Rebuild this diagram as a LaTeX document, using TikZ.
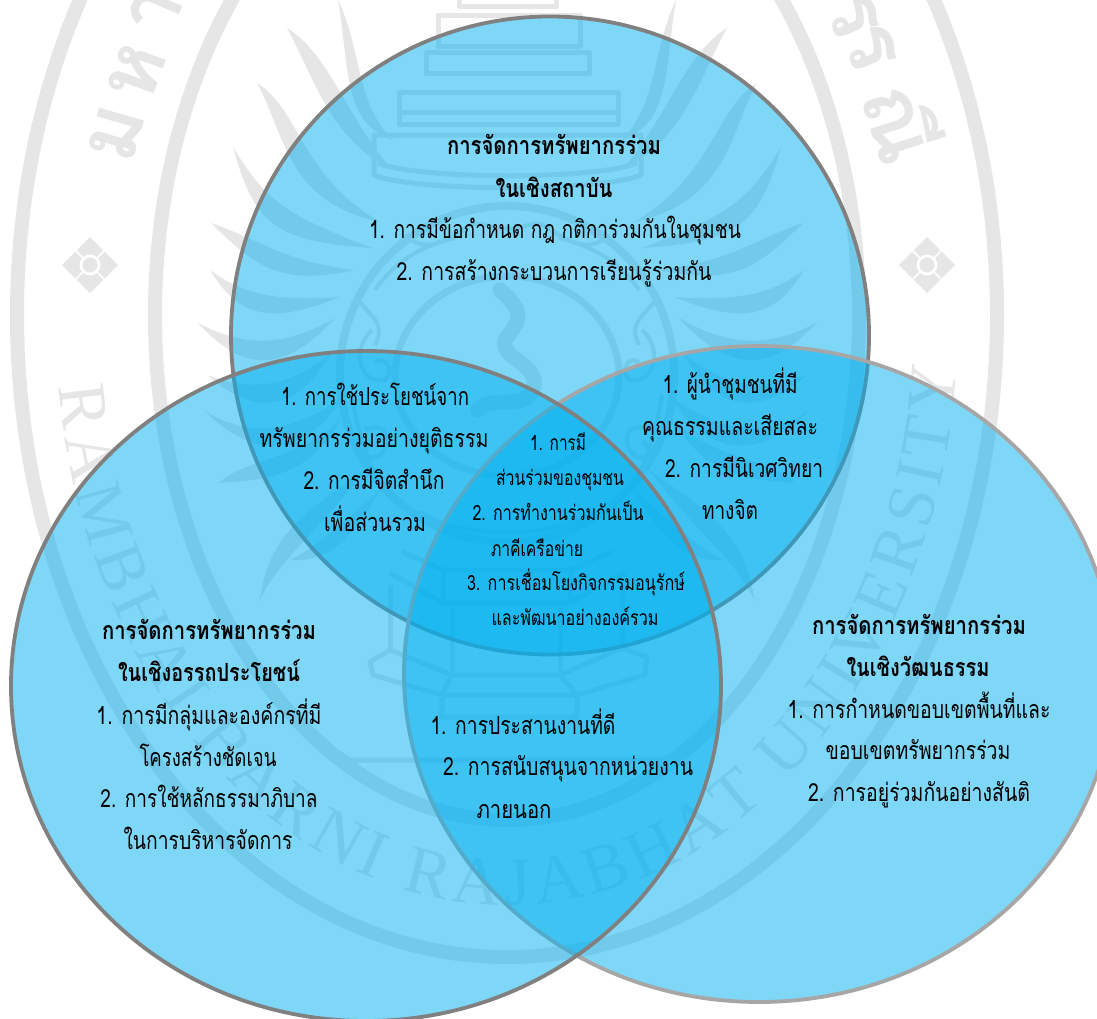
\documentclass[tikz,border=0pt]{standalone}
\usepackage{fontspec}
\usepackage{graphicx}
\usetikzlibrary{decorations.text}
\newfontfamily\thaifont[Script=Thai]{Loma}
\newfontfamily\wmfont{Liberation Serif}
\definecolor{wmgray}{HTML}{E6E6E6}
\definecolor{setblue}{HTML}{00B0F0}
\tikzset{
  setfill/.style={fill=setblue,fill opacity=0.5,line width=3.8pt},
  tl/.style={anchor=base,inner sep=0pt,outer sep=0pt,text=black},
  wmline/.style={draw=wmgray,line width=5pt,line join=round},
  wmring/.style={draw=wmgray,line width=14pt},
  wmletter/.style={text=wmgray,inner sep=0pt}
}
% one centred line of text: name, centre x, baseline y, width, text
\newcommand{\tline}[5]{\node[tl] (#1) at (#2,#3) {\thaifont\fontsize{25}{28}\selectfont\resizebox{#4pt}{\height}{#5}};}
\newcommand{\bline}[5]{\node[tl] (#1) at (#2,#3) {\thaifont\bfseries\fontsize{25}{28}\selectfont\resizebox{#4pt}{\height}{#5}};}
\newcommand{\sline}[5]{\node[tl] (#1) at (#2,#3) {\thaifont\fontsize{21}{24}\selectfont\resizebox{#4pt}{\height}{#5}};}
% flame ray: tip, two controls, end, belly offset
\newcommand{\wmray}[5]{\fill[wmgray] (#1) .. controls (#2) and (#3) .. (#4) .. controls ([shift={(#5)}]#3) and ([shift={(#5)}]#2) .. (#1) -- cycle;}
\newcommand{\wmrays}{%
  \wmray{338,0}{362,50}{355,100}{392,140}{-12,22}
  \wmray{287,28}{330,55}{345,115}{392,170}{-15,24}
  \wmray{257,83}{300,110}{300,175}{380,222}{-14,26}
  \wmray{233,147}{265,200}{285,215}{372,248}{-10,26}
  \wmray{211,223}{260,240}{285,262}{355,270}{-6,25}
  \wmray{210,270}{240,292}{270,302}{340,297}{-2,24}
  \wmray{198,323}{240,345}{280,350}{335,318}{2,26}
  \wmray{207,375}{250,392}{290,388}{332,352}{6,25}
  \wmray{205,411}{250,440}{300,430}{345,395}{8,24}
  \wmray{219,483}{245,458}{300,460}{340,420}{8,22}
  \wmray{260,600}{268,535}{305,512}{365,470}{12,22}
  \wmray{290,560}{320,545}{345,520}{380,490}{8,18}
}
\newcommand{\wmflower}[2]{%
  \fill[wmgray] (#1,#2-28) -- (#1+28,#2) -- (#1,#2+28) -- (#1-28,#2) -- cycle;
  \draw[white,line width=1.6pt] (#1-15,#2-15) -- (#1+15,#2+15) (#1-15,#2+15) -- (#1+15,#2-15);
  \fill[white] (#1,#2) circle[radius=10.5];
  \fill[wmgray] (#1,#2) circle[radius=7.5];
}
\newcommand{\wmcurls}{%
  \draw[wmline,line width=4pt] (375,290) .. controls (395,260) and (425,245) .. (455,238);
  \draw[wmline,line width=4pt] (372,330) .. controls (350,350) and (360,385) .. (385,380) .. controls (395,370) and (385,355) .. (375,362);
  \draw[wmline,line width=4pt] (358,300) .. controls (375,320) and (385,325) .. (375,345);
  \draw[wmline,line width=4pt] (365,430) .. controls (385,420) and (395,440) .. (380,455) .. controls (365,465) and (360,445) .. (372,442);
  \draw[wmline,line width=4pt] (352,395) .. controls (358,430) and (365,470) .. (395,500);
  \draw[wmline,line width=4pt] (420,512) .. controls (450,530) and (480,532) .. (507,532);
  \draw[wmline,line width=4pt] (405,235) .. controls (425,255) and (450,240) .. (470,225) .. controls (485,220) and (495,232) .. (507,228);
}
\begin{document}
\begin{tikzpicture}[x=1pt,y=-1pt]
\path[use as bounding box,fill=white] (0,0) rectangle (1097,1018);
\clip (0,0) rectangle (1097,1018);
% --- watermark seal ---
\draw[wmring] (507,315) ellipse [x radius=490,y radius=642];
\draw[wmring] (507,315) ellipse [x radius=352,y radius=505];
\draw[draw=wmgray,line width=8pt] (507,374) ellipse [x radius=167,y radius=168];
\draw[draw=wmgray,line width=7pt] (507,376) ellipse [x radius=112,y radius=100];
\wmcurls
\begin{scope}[shift={(1014,0)},xscale=-1]
\wmcurls
\end{scope}
\wmrays
\begin{scope}[shift={(1014,0)},xscale=-1]
\wmrays
\end{scope}
% central flame
\draw[draw=wmgray,line width=15pt,line cap=round] (500,290) .. controls (530,315) and (515,325) .. (505,340)
  .. controls (500,360) and (545,365) .. (532,392) .. controls (522,410) and (490,395) .. (478,410);
% tower tiers
\draw[wmline] (374,135) -- (641,135) -- (641,175) .. controls (600,192) and (415,192) .. (374,175) -- cycle;
\draw[wmline] (378,163) .. controls (420,180) and (595,180) .. (637,163);
\draw[wmline] (399,92) -- (618,92) -- (618,124) -- (399,124) -- cycle;
\draw[wmline] (399,112) -- (618,112);
\draw[wmline] (426,52) -- (589,52) -- (589,73) -- (426,73) -- cycle;
\draw[wmline] (438,15) -- (580,15) -- (580,46) -- (438,46) -- cycle;
\draw[wmline] (459,-3) -- (556,-3) -- (556,6) -- (459,6) -- cycle;
% pedestal
\draw[wmline] (402,552) -- (443,570) -- (570,570) -- (612,552);
\draw[wmline] (390,573) -- (443,603) -- (570,603) -- (625,573);
\draw[wmline] (443,570) -- (443,603) (570,570) -- (570,603);
\draw[wmline] (452,608) -- (452,675) (560,608) -- (560,675) (390,585) -- (390,650) (622,585) -- (622,648);
\draw[wmline] (390,650) -- (452,675) -- (560,675) -- (622,648);
\draw[wmline] (390,650) -- (370,662) -- (373,675) -- (442,695) -- (577,695) -- (645,675) -- (647,657) -- (622,648);
\draw[wmline] (452,675) -- (442,695) -- (442,717) -- (577,717) -- (577,695) -- (560,675);
\draw[wmline] (330,748) -- (350,760) -- (664,760) -- (684,748);
% flowers
\wmflower{90}{265}
\wmflower{927}{265}
% crest text
\path[decorate,decoration={text along path,text align={fit to path},
  text={|\wmfont\fontsize{68}{68}\selectfont\color{wmgray}|RAMBHAI BARNI RAJABHAT UNIVERSITY}}]
  (507,315) ++(173:452 and 590) arc[start angle=173,end angle=5,x radius=452,y radius=590];
\foreach \n/\x/\y/\r/\t in {wa/117/133/74/ม,wb/137/72/70/ห,wc/155/12/67/า,wd/853/15/-67/ร,we/871/48/-68/ร,wf/905/122/-72/ณี}{
  \node[wmletter,rotate=\r] (\n) at (\x,\y) {\thaifont\bfseries\fontsize{84}{84}\selectfont\t};
}
% --- three sets (top, right, left order) ---
\draw[setfill,draw=black!50] (550,335.5) ellipse [x radius=319,y radius=319];
\draw[setfill,draw=black!35] (759,674) ellipse [x radius=355,y radius=328];
\draw[setfill,draw=black!50] (366,686) ellipse [x radius=355,y radius=335];
% --- texts ---
\bline{ta}{554}{154}{214}{การจัดการทรัพยากรร่วม}
\bline{tb}{554}{197}{117}{ในเชิงสถาบัน}
\tline{tc}{555}{238}{372}{1. การมีข้อกำหนด กฎ กติการ่วมกันในชุมชน}
\tline{td}{554}{280}{315}{2. การสร้างกระบวนการเรียนรู้ร่วมกัน}
\tline{la}{375}{405}{188}{1. การใช้ประโยชน์จาก}
\tline{lb}{374}{447}{229}{ทรัพยากรร่วมอย่างยุติธรรม}
\tline{lc}{374}{489}{141}{2. การมีจิตสำนึก}
\tline{ld}{375}{531}{102}{เพื่อส่วนรวม}
\sline{ca}{558}{450}{56}{1. การมี}
\sline{cb}{560}{485}{128}{ส่วนร่วมของชุมชน}
\sline{cc}{558}{520}{171}{2. การทำงานร่วมกันเป็น}
\sline{cd}{537}{556}{92}{ภาคีเครือข่าย}
\sline{ce}{576}{590}{218}{3. การเชื่อมโยงกิจกรรมอนุรักษ์}
\sline{cf}{575}{625}{167}{และพัฒนาอย่างองค์รวม}
\tline{ra}{730}{393}{135}{1. ผู้นำชุมชนที่มี}
\tline{rb}{730}{435}{176}{คุณธรรมและเสียสละ}
\tline{rc}{744}{477}{158}{2. การมีนิเวศวิทยา}
\tline{rd}{730}{519}{56}{ทางจิต}
\bline{pa}{209}{639}{214}{การจัดการทรัพยากรร่วม}
\bline{pb}{209}{681}{182}{ในเชิงอรรถประโยชน์}
\tline{pc}{209}{724}{225}{1. การมีกลุ่มและองค์กรที่มี}
\tline{pd}{208}{766}{137}{โครงสร้างชัดเจน}
\tline{pe}{209}{807}{217}{2. การใช้หลักธรรมาภิบาล}
\tline{pf}{208}{849}{169}{ในการบริหารจัดการ}
\bline{qa}{919}{634}{214}{การจัดการทรัพยากรร่วม}
\bline{qb}{918}{676}{143}{ในเชิงวัฒนธรรม}
\tline{qc}{919}{718}{263}{1. การกำหนดขอบเขตพื้นที่และ}
\tline{qd}{918}{759}{185}{ขอบเขตทรัพยากรร่วม}
\tline{qe}{919}{801}{222}{2. การอยู่ร่วมกันอย่างสันติ}
\tline{ma}{523}{734}{185}{1. การประสานงานที่ดี}
\tline{mb}{568}{775}{250}{2. การสนับสนุนจากหน่วยงาน}
\tline{mc}{514}{818}{75}{ภายนอก}
\end{tikzpicture}
\end{document}
